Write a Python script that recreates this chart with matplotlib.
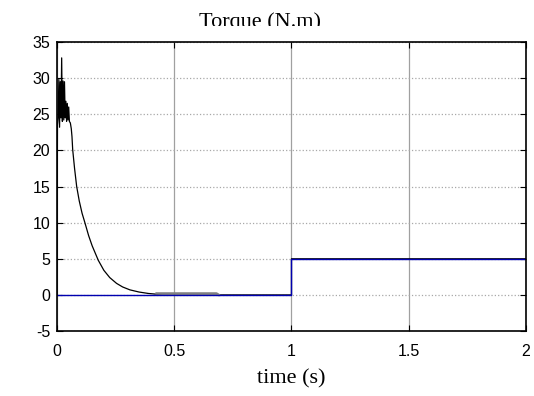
import matplotlib
matplotlib.use("Agg")
import matplotlib.pyplot as plt
from matplotlib.patches import Rectangle

plt.rcParams["axes.unicode_minus"] = False

# electromagnetic torque (black)
t_em = [0, 0.002, 0.005, 0.008, 0.011, 0.014, 0.017, 0.020, 0.023, 0.026,
        0.029, 0.032, 0.035, 0.038, 0.041, 0.044, 0.047, 0.050, 0.053, 0.057,
        0.061, 0.064, 0.067, 0.075, 0.084, 0.095, 0.107, 0.119, 0.135, 0.150,
        0.176, 0.200, 0.225, 0.254, 0.280, 0.311, 0.350, 0.390, 0.425, 0.450,
        0.680, 0.690, 1.0, 1.0, 2.0]
T_em = [0, 23.5, 24.5, 29.8, 23.2, 29.5, 24.5, 32.8, 24.0, 29.6,
        24.2, 29.5, 24.5, 26.8, 24.0, 26.5, 24.2, 26.0, 24.0, 23.8,
        23.0, 21.9, 20.1, 17.5, 15.0, 13.0, 11.3, 10.0, 8.2, 6.8,
        4.8, 3.4, 2.4, 1.6, 1.1, 0.7, 0.4, 0.2, 0.1, 0.15,
        0.15, 0, 0, 5, 5]

# load torque (blue)
t_load = [0, 1, 1, 2]
T_load = [0, 0, 5, 5]

xticks = [0, 0.5, 1, 1.5, 2]
xlabels = ["0", "0.5", "1", "1.5", "2"]
yticks = [-5, 0, 5, 10, 15, 20, 25, 30, 35]

fig = plt.figure(figsize=(5.34, 3.96), dpi=100)
ax = fig.add_axes([0.1067, 0.164, 0.8783, 0.730])

ax.plot(t_em, T_em, color="black", lw=0.9)
ax.plot(t_em[38:42], [0.2, 0.2, 0.2, 0.0], color="#808080", lw=1.8)
ax.plot(t_load, T_load, color="#0000b0", lw=1.0)

ax.set_xlim(0, 2)
ax.set_ylim(-5, 35)
ax.set_xticks(xticks)
ax.set_xticklabels(xlabels)
ax.set_yticks(yticks)

for lab in ax.get_xticklabels() + ax.get_yticklabels():
    lab.set_family("Liberation Sans")
    lab.set_fontsize(11.5)

ax.tick_params(direction="in", length=4, width=0.8, top=True, right=True)
ax.tick_params(axis="x", pad=9)
ax.tick_params(axis="y", pad=5)
for s in ax.spines.values():
    s.set_linewidth(1.2)

ax.xaxis.grid(True, color="#a0a0a0", lw=0.9, ls="-")
ax.yaxis.grid(True, color="#a8a8a8", lw=0.9, ls=":")
ax.set_axisbelow(True)

ax.set_xlabel("time (s)", family="Liberation Serif", fontsize=16, labelpad=8)

fig.text(0.487, 1 - 12 / 396, "Torque (N.m)", family="Liberation Serif",
         fontsize=16, ha="center", va="top", zorder=1)
# the title is cut off at its lower edge in the original
fig.patches.append(Rectangle((0.3, 1 - 41 / 396), 0.4, 15 / 396, transform=fig.transFigure,
                             facecolor="white", edgecolor="none", zorder=5))

fig.savefig("out.png", dpi=100)
